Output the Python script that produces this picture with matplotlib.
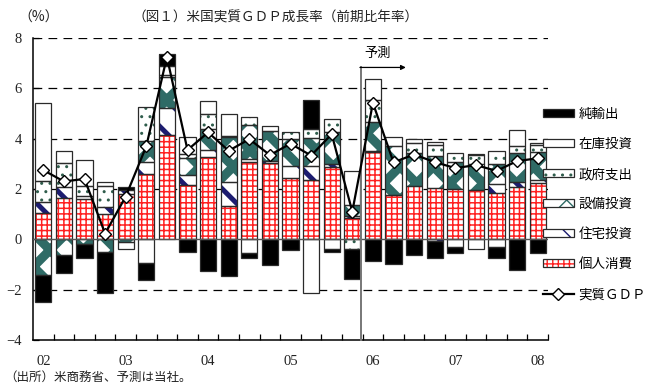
import numpy as np
import matplotlib
matplotlib.use("Agg")
import matplotlib.pyplot as plt
from matplotlib.patches import Patch
from matplotlib.lines import Line2D

# ---- data (annualized q/q contributions, %pt) ----
quarters = ["02Q1", "02Q2", "02Q3", "02Q4", "03Q1", "03Q2", "03Q3", "03Q4",
            "04Q1", "04Q2", "04Q3", "04Q4", "05Q1", "05Q2", "05Q3", "05Q4",
            "06Q1", "06Q2", "06Q3", "06Q4", "07Q1", "07Q2", "07Q3", "07Q4",
            "08Q1"]
year_labels = ["02", "03", "04", "05", "06", "07", "08"]

consumption = [1.03, 1.64, 1.62, 1.00, 1.80, 2.60, 4.14, 2.14, 3.26, 1.34, 3.08, 3.03, 2.42,
               2.36, 2.86, 0.83, 3.47, 1.77, 2.12, 2.05, 2.00, 1.97, 1.86, 2.06, 2.25]
housing = [0.45, 0.42, 0.10, 0.27, 0.17, 0.46, 1.08, 0.43, 0.27, 0.93, 0.13, 0.09, 0.50,
           0.57, 0.14, 0.11, 0.05, 0.00, 0.00, -0.06, 0.00, 0.00, 0.35, 0.20, 0.10]
equipment = [-1.41, -0.63, -0.19, -0.49, -0.10, 0.86, 1.22, 0.67, 0.86, 1.79, 1.33, 1.19, 1.06,
             1.09, 1.25, 0.42, 1.14, 1.95, 1.32, 1.28, 1.06, 1.02, 0.78, 1.19, 1.12]
government = [0.82, 0.96, 0.41, 0.83, 0.00, 1.35, 0.10, 0.16, 0.59, 0.06, 0.31, 0.18, 0.27,
              0.37, 0.53, -0.40, 0.87, 0.00, 0.40, 0.40, 0.36, 0.35, 0.52, 0.24, 0.26]
inventory = [3.12, 0.49, 1.02, 0.18, -0.27, -0.93, 0.35, 0.68, 0.53, 0.88, -0.53, 0.00, 0.00,
             -2.12, -0.37, 1.36, 0.84, 0.36, 0.16, 0.14, -0.29, -0.39, -0.29, 0.66, 0.10]
net_exports = [-1.09, -0.72, -0.56, -1.63, 0.12, -0.70, 0.48, -0.50, -1.26, -1.46, -0.23, -1.02, -0.42,
               1.16, -0.13, -1.17, -0.87, -0.97, -0.61, -0.68, -0.26, 0.05, -0.44, -1.21, -0.53]
gdp = [2.75, 2.30, 2.40, 0.23, 1.70, 3.70, 7.25, 3.55, 4.25, 3.52, 3.98, 3.35, 3.80,
       3.33, 4.18, 1.10, 5.42, 3.06, 3.37, 3.07, 2.83, 2.95, 2.72, 3.11, 3.22]

forecast_start = 16   # first forecast quarter (06Q1)

cjk = ["Noto Sans CJK JP", "DejaVu Sans"]
num_font = ["Liberation Serif", "DejaVu Serif"]

fig = plt.figure(figsize=(6.51, 3.83), dpi=100)
ax = fig.add_axes([33 / 651, 1 - 340 / 383, (548 - 33) / 651, (340 - 38) / 383])

x = np.arange(len(quarters))
width = 0.78
outline = "#2a2a2a"

# (values, label, face, hatch, hatch colour, hatch linewidth)
components = [
    (consumption, "個人消費", "white", "+++", "#ff2020", 1.1),
    (housing, "住宅投資", "white", "\\", "#1c1c70", 3.6),
    (equipment, "設備投資", "white", "x", "#2f6b66", 6.5),
    (government, "政府支出", "white", "..", "#2f5d4c", 1.0),
    (inventory, "在庫投資", "white", None, None, 1.0),
    (net_exports, "純輸出", "black", None, None, 1.0),
]


def apply_hatch_lw(container, lw):
    for p in container.patches:
        if hasattr(p, "set_hatch_linewidth"):
            p.set_hatch_linewidth(lw)


pos_base = np.zeros(len(x))
neg_base = np.zeros(len(x))
for vals, label, face, hatch, hcol, hlw in components:
    v = np.asarray(vals, dtype=float)
    bottoms = np.where(v >= 0, pos_base, neg_base)
    m = v != 0
    if hatch:
        with plt.rc_context({"hatch.linewidth": hlw}):
            c = ax.bar(x[m], v[m], width, bottom=bottoms[m], color=face,
                       edgecolor=hcol, hatch=hatch, linewidth=0, zorder=2)
        apply_hatch_lw(c, hlw)
    else:
        ax.bar(x[m], v[m], width, bottom=bottoms[m], color=face,
               linewidth=0, zorder=2)
    ax.bar(x[m], v[m], width, bottom=bottoms[m], fill=False,
           edgecolor=outline, linewidth=0.9, zorder=3)
    pos_base = pos_base + np.where(v > 0, v, 0)
    neg_base = neg_base + np.where(v < 0, v, 0)

# GDP line
ax.plot(x, gdp, color="black", lw=1.6, marker="D", markersize=6.2,
        markerfacecolor="white", markeredgecolor="black", markeredgewidth=1.0,
        zorder=5)

# grid / zero line
for yv in [8, 6, 4, 2, -2]:
    ax.axhline(yv, color="black", lw=0.9, ls=(0, (7, 5)), zorder=1)
ax.axhline(0, color="#555555", lw=1.0, zorder=4)

# forecast marker
fx = forecast_start - 0.6
ax.plot([fx, fx], [-4, 6.83], color="#777777", lw=1.4, zorder=4, clip_on=False)
ax.annotate("", xy=(17.6, 6.83), xytext=(fx - 0.03, 6.83),
            arrowprops=dict(arrowstyle="-|>", color="black", lw=0.9,
                            mutation_scale=7, shrinkA=0, shrinkB=0),
            zorder=6)
ax.text(16.25, 7.38, "予測", ha="center", va="center", fontsize=9.5,
        family=cjk)

ax.set_xlim(-0.5, len(x) - 0.5)
ax.set_ylim(-4, 8)
ax.set_yticks([-4, -2, 0, 2, 4, 6, 8])
ax.set_xticks(x[::4])
ax.set_xticklabels(year_labels)
ax.set_xticks(np.arange(0.5, len(x), 1.0), minor=True)
ax.tick_params(axis="x", which="major", length=0, pad=11)
ax.tick_params(axis="x", which="minor", direction="in", length=4, width=0.9)
ax.tick_params(axis="y", direction="in", length=4, width=0.9, pad=8)
for lab in ax.get_xticklabels() + ax.get_yticklabels():
    lab.set_family(num_font)
    lab.set_fontsize(10.5)
    lab.set_color("#222222")
for s in ["top", "right"]:
    ax.spines[s].set_visible(False)
for s in ["left", "bottom"]:
    ax.spines[s].set_linewidth(1.1)
    ax.spines[s].set_color("black")

# legend
handles, labels = [], []
for vals, label, face, hatch, hcol, hlw in reversed(components):
    if hatch:
        with plt.rc_context({"hatch.linewidth": hlw}):
            hp = Patch(facecolor=face, edgecolor=hcol, hatch=hatch, linewidth=0)
        if hasattr(hp, "set_hatch_linewidth"):
            hp.set_hatch_linewidth(hlw)
        op = Patch(fill=False, edgecolor=outline, linewidth=0.9)
        handles.append((hp, op))
    else:
        handles.append(Patch(facecolor=face, edgecolor=outline, linewidth=0.9))
    labels.append(label)
handles.append(Line2D([], [], color="black", lw=1.6, marker="D", markersize=6,
                      markerfacecolor="white", markeredgecolor="black"))
labels.append("実質ＧＤＰ")
fig.legend(handles, labels, loc="upper left", bbox_to_anchor=(543 / 651, 1 - 107 / 383),
           frameon=False, prop={"family": cjk, "size": 9.7},
           handlelength=2.3, handleheight=0.55, handletextpad=0.35,
           labelspacing=1.19, borderaxespad=0, borderpad=0)

# titles and note
fig.text(18 / 651, 1 - 18 / 383, "（%）", ha="left", va="center", fontsize=10,
         family=cjk, color="#222222")
fig.text(132 / 651, 1 - 18 / 383, "（図１）米国実質ＧＤＰ成長率（前期比年率）",
         ha="left", va="center", fontsize=9.8, family=cjk, color="#222222")
fig.text(4 / 651, 1 - 377 / 383, "（出所）米商務省、予測は当社。", ha="left",
         va="center", fontsize=9, family=cjk, color="#222222")

fig.savefig("out.png", dpi=100)
